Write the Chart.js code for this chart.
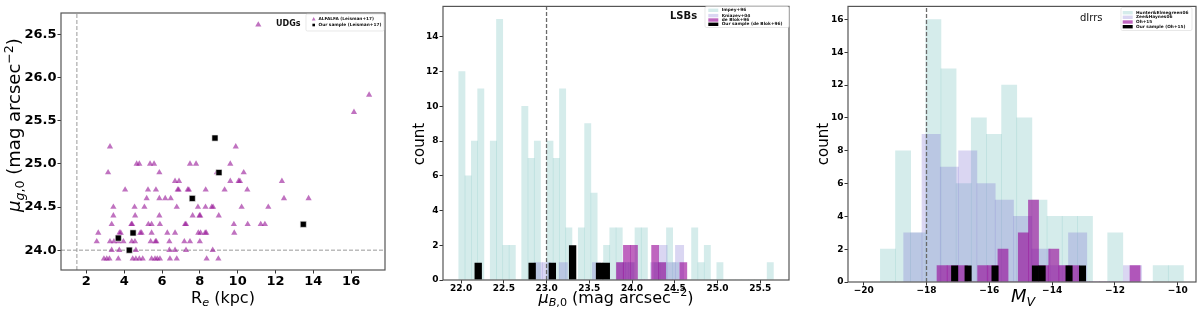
<!DOCTYPE html>
<html>
<head>
<meta charset="utf-8">
<script src="https://cdn.jsdelivr.net/npm/chart.js@4.4.1/dist/chart.umd.min.js"></script>
<style>
  html, body { margin: 0; padding: 0; background: #fff; }
  #wrap { position: relative; width: 1200px; height: 319px; overflow: hidden; }
  .panel { position: absolute; top: 0; width: 400px; height: 319px; }
</style>
</head>
<body>
<div id="wrap">
  <div class="panel" style="left:0"><canvas id="udg" width="400" height="319"></canvas></div>
  <div class="panel" style="left:400px"><canvas id="lsb" width="400" height="319"></canvas></div>
  <div class="panel" style="left:800px"><canvas id="dirr" width="400" height="319"></canvas></div>
</div>
<script>
// ---------- Panel 1: UDGs, R_e gegen mu_g,0 ----------
const alfalfaRe = [
  16.95,
  16.15,
  3.25, 9.90,
  4.66, 4.80, 5.37, 5.58, 7.48, 7.80, 9.61,
  3.15, 5.86, 8.90, 10.32,
  6.69, 6.90, 9.61, 10.05, 10.12, 12.34,
  4.05, 5.26, 5.68, 6.83, 6.88, 7.36, 7.42, 8.31, 9.31, 10.51,
  5.19, 5.86, 6.17, 6.46, 12.45, 13.75,
  3.43, 4.55, 5.07, 6.78, 7.90, 8.30, 8.63, 8.70, 10.21, 11.62,
  3.43, 4.58, 5.86, 7.62, 7.98, 8.02, 9.00,
  3.34, 4.38, 4.42, 5.28, 5.45, 5.89, 7.22, 7.27, 9.80, 10.53, 11.22, 11.44,
  2.63, 3.75, 3.82, 4.85, 4.92, 5.45, 6.28, 6.69, 7.92, 8.04, 8.28, 8.34, 9.82,
  2.55, 3.25, 3.46, 3.69, 3.96, 4.40, 4.57, 5.40, 5.65, 5.70, 6.39, 7.18, 7.48, 8.00,
  3.34, 3.74, 4.62, 6.39, 6.69, 7.27, 8.68,
  2.93, 3.08, 3.22, 3.69, 4.45, 4.62, 4.80, 4.98, 5.45, 5.63, 5.75, 5.89, 6.42, 6.78, 8.36, 8.98
];
const alfalfaMu = [
  25.8,
  25.6,
  25.2, 25.2,
  25.0, 25.0, 25.0, 25.0, 25.0, 25.0, 25.0,
  24.9, 24.9, 24.9, 24.9,
  24.8, 24.8, 24.8, 24.8, 24.8, 24.8,
  24.7, 24.7, 24.7, 24.7, 24.7, 24.7, 24.7, 24.7, 24.7, 24.7,
  24.6, 24.6, 24.6, 24.6, 24.6, 24.6,
  24.5, 24.5, 24.5, 24.5, 24.5, 24.5, 24.5, 24.5, 24.5, 24.5,
  24.4, 24.4, 24.4, 24.4, 24.4, 24.4, 24.4,
  24.3, 24.3, 24.3, 24.3, 24.3, 24.3, 24.3, 24.3, 24.3, 24.3, 24.3, 24.3,
  24.2, 24.2, 24.2, 24.2, 24.2, 24.2, 24.2, 24.2, 24.2, 24.2, 24.2, 24.2, 24.2,
  24.1, 24.1, 24.1, 24.1, 24.1, 24.1, 24.1, 24.1, 24.1, 24.1, 24.1, 24.1, 24.1, 24.1,
  24.0, 24.0, 24.0, 24.0, 24.0, 24.0, 24.0,
  23.9, 23.9, 23.9, 23.9, 23.9, 23.9, 23.9, 23.9, 23.9, 23.9, 23.9, 23.9, 23.9, 23.9, 23.9, 23.9
];
const udgOursRe = [8.80, 9.01, 7.60, 4.47, 3.69, 4.27, 13.47];
const udgOursMu = [25.30, 24.90, 24.60, 24.20, 24.14, 24.00, 24.30];
const udgReCut = 1.5;
const udgMuCut = 24.0;
const p1XRange = [0.66, 17.79];
const p1YRange = [23.77, 26.75];
const p1XTicks = [2, 4, 6, 8, 10, 12, 14, 16];
const p1XLabels = ['2', '4', '6', '8', '10', '12', '14', '16'];
const p1YTicks = [24.0, 24.5, 25.0, 25.5, 26.0, 26.5];
const p1YLabels = ['24.0', '24.5', '25.0', '25.5', '26.0', '26.5'];

// ---------- Panel 2: LSBs, Histogramme von mu_B,0 (Bin-Mitten + Anzahl) ----------
const impeyMu = [22.010, 22.083, 22.157, 22.231, 22.304, 22.378, 22.451, 22.525, 22.599, 22.672,
                 22.746, 22.820, 22.893, 22.967, 23.040, 23.114, 23.188, 23.261, 23.335, 23.408,
                 23.482, 23.556, 23.629, 23.703, 23.776, 23.850, 23.924, 23.997, 24.071, 24.144,
                 24.218, 24.292, 24.365, 24.439, 24.513, 24.586, 24.660, 24.733, 24.807, 24.881,
                 24.954, 25.028, 25.101, 25.175, 25.249, 25.322, 25.396, 25.470, 25.543, 25.617];
const impeyN = [12, 6, 8, 11, 0, 8, 15, 2, 2, 0,
                10, 7, 8, 0, 8, 7, 11, 3, 0, 3,
                9, 5, 0, 2, 3, 3, 1, 1, 3, 3,
                0, 1, 1, 3, 1, 0, 0, 3, 1, 2,
                0, 1, 0, 0, 0, 0, 0, 0, 0, 1];
const kniazevMu = [22.904, 23.001, 23.099, 23.196, 23.293, 23.390, 23.487, 23.584, 23.682,
                   23.779, 23.876, 23.973, 24.070, 24.168, 24.265, 24.362, 24.459, 24.556];
const kniazevN = [1, 1, 0, 1, 0, 0, 0, 1, 0, 0, 1, 1, 0, 0, 1, 2, 1, 2];
const deBlokMu = [23.858, 23.940, 24.023, 24.105, 24.188, 24.270, 24.353, 24.435, 24.518, 24.600];
const deBlokN = [1, 2, 2, 0, 0, 2, 1, 0, 0, 1];
const lsbOursMu = [22.201, 22.280, 22.358, 22.437, 22.516, 22.595, 22.674, 22.753, 22.832, 22.911,
                   22.989, 23.068, 23.147, 23.226, 23.305, 23.384, 23.463, 23.542, 23.620, 23.699];
const lsbOursN = [1, 0, 0, 0, 0, 0, 0, 0, 1, 0, 0, 1, 0, 0, 2, 0, 0, 0, 1, 1];
const lsbMuCut = 23.0;
const p2XRange = [21.789, 25.836];
const p2YMax = 15.75;
const p2XTicks = [22.0, 22.5, 23.0, 23.5, 24.0, 24.5, 25.0, 25.5];
const p2XLabels = ['22.0', '22.5', '23.0', '23.5', '24.0', '24.5', '25.0', '25.5'];
const p2YTicks = [0, 2, 4, 6, 8, 10, 12, 14];
const p2YLabels = ['0', '2', '4', '6', '8', '10', '12', '14'];

// ---------- Panel 3: dIrrs, Histogramme von M_V ----------
const hunterMv = [-19.229, -18.746, -18.264, -17.781, -17.299, -16.816, -16.334, -15.851, -15.369, -14.886,
                  -14.404, -13.921, -13.439, -12.956, -12.474, -11.991, -11.509, -11.026, -10.544, -10.061];
const hunterN = [2, 8, 3, 16, 13, 6, 10, 9, 12, 10, 5, 4, 4, 4, 0, 3, 0, 0, 1, 1];
const zeeMv = [-18.436, -17.853, -17.270, -16.687, -16.104, -15.521, -14.938,
               -14.355, -13.772, -13.189, -12.606, -12.023, -11.440];
const zeeN = [3, 9, 7, 8, 6, 5, 4, 2, 1, 3, 0, 0, 1];
const ohMv = [-17.505, -17.182, -16.858, -16.535, -16.211, -15.888, -15.565, -15.241, -14.918, -14.594,
              -14.271, -13.947, -13.624, -13.300, -12.977, -12.654, -12.330, -12.007, -11.683, -11.360];
const ohN = [1, 1, 1, 0, 1, 1, 2, 0, 3, 5, 1, 2, 1, 1, 0, 0, 0, 0, 0, 1];
const dirrOursMv = [-17.104, -16.890, -16.676, -16.461, -16.247, -16.033, -15.819, -15.604, -15.390, -15.176,
                    -14.962, -14.748, -14.533, -14.319, -14.105, -13.891, -13.676, -13.462, -13.248, -13.034];
const dirrOursN = [1, 0, 1, 0, 0, 0, 1, 0, 0, 0, 0, 0, 1, 1, 0, 0, 0, 1, 0, 1];
const dirrMvCut = -18;
const p3XRange = [-20.5, -9.42];
const p3YMax = 16.8;
const p3XTicks = [-20, -18, -16, -14, -12, -10];
const p3XLabels = ['\u221220', '\u221218', '\u221216', '\u221214', '\u221212', '\u221210'];
const p3YTicks = [0, 2, 4, 6, 8, 10, 12, 14, 16];
const p3YLabels = ['0', '2', '4', '6', '8', '10', '12', '14', '16'];

// Farben (matplotlib-artig, halbtransparent)
const cTeal = 'rgba(64,170,165,0.22)';
const cLav = 'rgba(106,90,205,0.25)';
const cPurp = 'rgba(148,0,148,0.6)';
const cTri = 'rgba(150,20,150,0.6)';

const FAM = '"DejaVu Sans"';

// Text mit Index/Exponent zeichnen (Achsentitel)
function drawRich(ctx, parts, cx, cy, size, rotate) {
  const fontOf = p => (p.it ? 'italic ' : '') + ((p.sub || p.sup) ? size * 0.7 : size) + 'px ' + FAM;
  ctx.save();
  ctx.translate(cx, cy);
  if (rotate) ctx.rotate(-Math.PI / 2);
  let total = 0;
  for (const p of parts) { ctx.font = fontOf(p); total += ctx.measureText(p.t).width; }
  let x = -total / 2;
  ctx.fillStyle = '#000';
  ctx.textBaseline = 'alphabetic';
  ctx.textAlign = 'left';
  for (const p of parts) {
    ctx.font = fontOf(p);
    const dy = p.sub ? size * 0.22 : (p.sup ? -size * 0.42 : 0);
    ctx.fillText(p.t, x, size * 0.36 + dy);
    x += ctx.measureText(p.t).width;
  }
  ctx.restore();
}

function marker(ctx, kind, x, y, s, color) {
  ctx.fillStyle = color;
  ctx.beginPath();
  if (kind === 'tri') {
    ctx.moveTo(x, y - s);
    ctx.lineTo(x + s * 0.866, y + s * 0.5);
    ctx.lineTo(x - s * 0.866, y + s * 0.5);
    ctx.closePath();
    ctx.fill();
  } else if (kind === 'sq') {
    ctx.rect(x - s, y - s, 2 * s, 2 * s);
    ctx.fill();
  } else {
    ctx.rect(x, y - 1.7, 10, 3.4);
    ctx.fill();
  }
}

// Rahmen, Achsentitel, Panel-Beschriftung und Legende
const decor = {
  id: 'decor',
  afterDraw(chart, args, o) {
    const ctx = chart.ctx;
    const a = chart.chartArea;
    ctx.save();
    ctx.strokeStyle = '#555';
    ctx.lineWidth = 1.2;
    ctx.strokeRect(a.left, a.top, a.right - a.left, a.bottom - a.top);

    drawRich(ctx, o.xTitle.parts, o.xTitle.x, o.xTitle.y, o.xTitle.size, false);
    drawRich(ctx, o.yTitle.parts, o.yTitle.x, o.yTitle.y, o.yTitle.size, true);

    if (o.tag.marker) marker(ctx, 'tri', o.tag.marker[0], o.tag.marker[1], 3.6, cTri);
    ctx.fillStyle = '#111';
    ctx.font = o.tag.font;
    ctx.textBaseline = 'middle';
    ctx.textAlign = 'left';
    ctx.fillText(o.tag.text, o.tag.x, o.tag.y);

    const L = o.legend;
    ctx.fillStyle = 'rgba(255,255,255,0.85)';
    ctx.strokeStyle = '#d8d8d8';
    ctx.lineWidth = 0.6;
    ctx.beginPath();
    ctx.roundRect(L.x, L.y, L.w, L.h, 1.5);
    ctx.fill();
    ctx.stroke();
    for (const it of L.items) {
      marker(ctx, it.kind, L.mx, it.y, it.s || 0, it.color);
      ctx.fillStyle = '#111';
      ctx.font = 'bold 4.3px ' + FAM;
      ctx.textBaseline = 'middle';
      ctx.fillText(it.label, L.tx, it.y);
    }
    ctx.restore();
  }
};

function xAxis(range, vals, labels, size, height) {
  return {
    type: 'linear', position: 'bottom', offset: false, bounds: 'data',
    min: range[0], max: range[1],
    border: { display: false },
    grid: { display: true, drawOnChartArea: false, drawTicks: true, tickLength: 3.5, tickColor: '#333', offset: false },
    ticks: { font: { family: 'DejaVu Sans', size, weight: 'bold' }, color: '#000', padding: 0,
             autoSkip: false, maxRotation: 0, callback: (v, i) => labels[i] },
    afterBuildTicks: s => { s.ticks = vals.map(v => ({ value: v })); },
    afterFit: s => { s.height = height; }
  };
}
function yAxis(min, max, vals, labels, size, width) {
  return {
    type: 'linear', position: 'left', bounds: 'data', min, max,
    border: { display: false },
    grid: { display: true, drawOnChartArea: false, drawTicks: true, tickLength: 3.5, tickColor: '#333' },
    ticks: { font: { family: 'DejaVu Sans', size, weight: 'bold' }, color: '#000', padding: 1,
             autoSkip: false, callback: (v, i) => labels[i] },
    afterBuildTicks: s => { s.ticks = vals.map(v => ({ value: v })); },
    afterFit: s => { s.width = width; }
  };
}
// eigene, unsichtbare x-Achse je Histogramm, damit jede Balkenbreite = eigene Binbreite
function hiddenX(range) {
  return {
    type: 'linear', axis: 'x', position: 'bottom', display: false, offset: false, bounds: 'data',
    min: range[0], max: range[1], grid: { offset: false }, ticks: { display: false },
    afterBuildTicks: s => { s.ticks = []; }
  };
}
function hist(label, xs, ns, axisId, bg, order, pct) {
  return {
    type: 'bar', label, xAxisID: axisId, order,
    data: xs.map((x, i) => ({ x, y: ns[i] })),
    backgroundColor: bg, borderWidth: 0,
    grouped: false, barPercentage: pct || 1, categoryPercentage: 1
  };
}
function vline(x, ymax, color) {
  return {
    type: 'line', xAxisID: 'x', order: 0,
    data: [{ x, y: 0 }, { x, y: ymax }],
    borderColor: color, borderWidth: 1.3, borderDash: [4, 2], pointRadius: 0, fill: false
  };
}

const base = {
  responsive: false, animation: false,
  plugins: { legend: { display: false }, tooltip: { enabled: false } }
};

// ---- Panel 1 ----
new Chart(document.getElementById('udg'), {
  type: 'scatter',
  plugins: [decor],
  data: {
    datasets: [
      { type: 'line', order: 3, data: [{ x: udgReCut, y: p1YRange[0] }, { x: udgReCut, y: p1YRange[1] }],
        borderColor: '#9a9a9a', borderWidth: 1, borderDash: [4, 2], pointRadius: 0 },
      { type: 'line', order: 3, data: [{ x: p1XRange[0], y: udgMuCut }, { x: p1XRange[1], y: udgMuCut }],
        borderColor: '#9a9a9a', borderWidth: 1, borderDash: [4, 2], pointRadius: 0 },
      { label: 'ALFALFA (Leisman+17)', order: 2,
        data: alfalfaRe.map((x, i) => ({ x, y: alfalfaMu[i] })),
        pointStyle: 'triangle', pointRadius: 3.6, backgroundColor: cTri, borderWidth: 0 },
      { label: 'Our sample (Leisman+17)', order: 1,
        data: udgOursRe.map((x, i) => ({ x, y: udgOursMu[i] })),
        pointStyle: 'rect', pointRadius: 4.3, backgroundColor: '#000', borderColor: '#eee', borderWidth: 0.6 }
    ]
  },
  options: {
    ...base,
    layout: { padding: { top: 13, right: 15, left: 0, bottom: 0 } },
    scales: {
      x: xAxis(p1XRange, p1XTicks, p1XLabels, 13, 49),
      y: yAxis(p1YRange[0], p1YRange[1], p1YTicks, p1YLabels, 13, 61)
    },
    plugins: {
      ...base.plugins,
      decor: {
        xTitle: { parts: [{ t: 'R' }, { t: 'e', sub: 1, it: 1 }, { t: ' (kpc)' }], x: 223, y: 297, size: 16 },
        yTitle: { parts: [{ t: '\u03bc', it: 1 }, { t: 'g', sub: 1, it: 1 }, { t: ',0', sub: 1 },
                          { t: ' (mag arcsec' }, { t: '\u22122', sup: 1 }, { t: ')' }], x: 14, y: 125, size: 18 },
        tag: { text: 'UDGs', x: 276, y: 24.3, font: 'bold 8px ' + FAM, marker: [258.3, 24.8] },
        legend: { x: 306, y: 14, w: 78, h: 17, mx: 313.7, tx: 318.5, items: [
          { kind: 'tri', s: 2.2, color: cTri, label: 'ALFALFA (Leisman+17)', y: 19.3 },
          { kind: 'sq', s: 1.3, color: '#000', label: 'Our sample (Leisman+17)', y: 25 }
        ] }
      }
    }
  }
});

// ---- Panel 2 ----
new Chart(document.getElementById('lsb'), {
  type: 'bar',
  plugins: [decor],
  data: {
    datasets: [
      hist('Impey+96', impeyMu, impeyN, 'xImpey', cTeal, 4),
      hist('Kniazev+04', kniazevMu, kniazevN, 'xKniazev', cLav, 3),
      hist('de Blok+96', deBlokMu, deBlokN, 'xDeBlok', cPurp, 2),
      hist('Our sample (de Blok+96)', lsbOursMu, lsbOursN, 'xOurs', '#000', 1, 1.1),
      vline(lsbMuCut, p2YMax, '#6a6a6a')
    ]
  },
  options: {
    ...base,
    layout: { padding: { top: 5, right: 11, left: 0, bottom: 0 } },
    scales: {
      x: xAxis(p2XRange, p2XTicks, p2XLabels, 9, 39),
      xImpey: hiddenX(p2XRange), xKniazev: hiddenX(p2XRange), xDeBlok: hiddenX(p2XRange), xOurs: hiddenX(p2XRange),
      y: yAxis(0, p2YMax, p2YTicks, p2YLabels, 9, 43)
    },
    plugins: {
      ...base.plugins,
      decor: {
        xTitle: { parts: [{ t: '\u03bc', it: 1 }, { t: 'B', sub: 1, it: 1 }, { t: ',0', sub: 1 },
                          { t: ' (mag arcsec' }, { t: '\u22122', sup: 1 }, { t: ')' }], x: 216, y: 297, size: 16 },
        yTitle: { parts: [{ t: 'count' }], x: 19, y: 144, size: 15 },
        tag: { text: 'LSBs', x: 270, y: 16.7, font: 'bold 10px ' + FAM },
        legend: { x: 305, y: 6.5, w: 84, h: 21, mx: 308.3, tx: 321.7, items: [
          { kind: 'patch', color: cTeal, label: 'Impey+96', y: 10.3 },
          { kind: 'patch', color: cLav, label: 'Kniazev+04', y: 15.6 },
          { kind: 'patch', color: cPurp, label: 'de Blok+96', y: 20 },
          { kind: 'patch', color: '#000', label: 'Our sample (de Blok+96)', y: 24.3 }
        ] }
      }
    }
  }
});

// ---- Panel 3 ----
new Chart(document.getElementById('dirr'), {
  type: 'bar',
  plugins: [decor],
  data: {
    datasets: [
      hist('Hunter&Elmegreen06', hunterMv, hunterN, 'xHunter', cTeal, 4),
      hist('Zee&Haynes06', zeeMv, zeeN, 'xZee', cLav, 3),
      hist('Oh+15', ohMv, ohN, 'xOh', cPurp, 2),
      hist('Our sample (Oh+15)', dirrOursMv, dirrOursN, 'xOurs', '#000', 1, 1.05),
      vline(dirrMvCut, p3YMax, '#6a6a6a')
    ]
  },
  options: {
    ...base,
    layout: { padding: { top: 6, right: 4, left: 0, bottom: 0 } },
    scales: {
      x: xAxis(p3XRange, p3XTicks, p3XLabels, 9, 37),
      xHunter: hiddenX(p3XRange), xZee: hiddenX(p3XRange), xOh: hiddenX(p3XRange), xOurs: hiddenX(p3XRange),
      y: yAxis(0, p3YMax, p3YTicks, p3YLabels, 9, 48)
    },
    plugins: {
      ...base.plugins,
      decor: {
        xTitle: { parts: [{ t: 'M', it: 1 }, { t: 'V', sub: 1, it: 1 }], x: 223, y: 296, size: 18 },
        yTitle: { parts: [{ t: 'count' }], x: 23, y: 144, size: 15 },
        tag: { text: 'dIrrs', x: 280, y: 18.3, font: '10px ' + FAM },
        legend: { x: 321, y: 7.5, w: 71, h: 23, mx: 322.7, tx: 336, items: [
          { kind: 'patch', color: cTeal, label: 'Hunter&Elmegreen06', y: 12.7 },
          { kind: 'patch', color: cLav, label: 'Zee&Haynes06', y: 17.3 },
          { kind: 'patch', color: cPurp, label: 'Oh+15', y: 22 },
          { kind: 'patch', color: '#000', label: 'Our sample (Oh+15)', y: 26.7 }
        ] }
      }
    }
  }
});
</script>
</body>
</html>
